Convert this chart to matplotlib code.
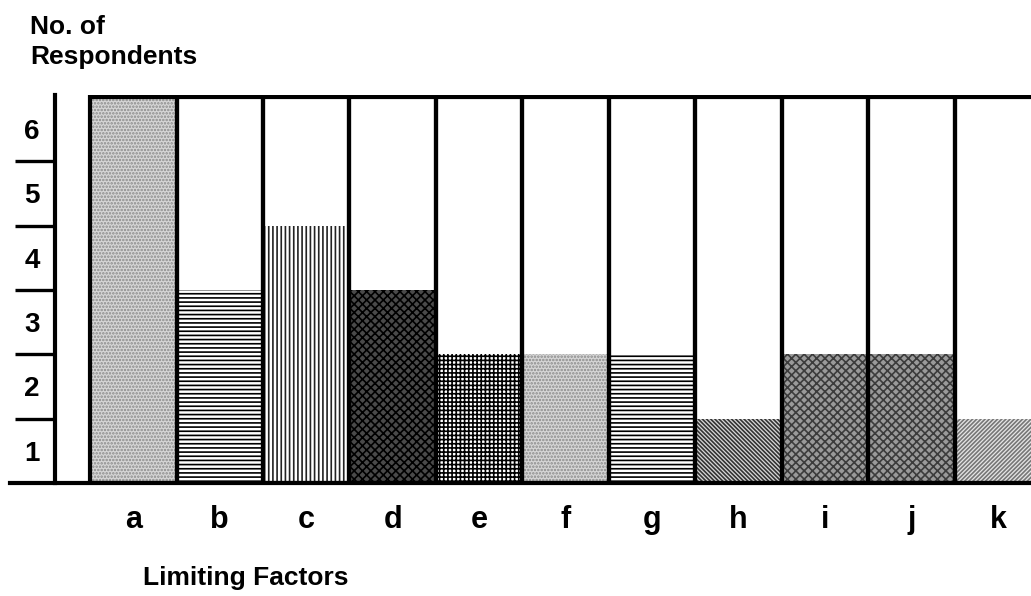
import matplotlib.pyplot as plt
from matplotlib.lines import Line2D

# data
factors = ["a", "b", "c", "d", "e", "f", "g", "h", "i", "j", "k"]
respondents = [6, 3, 4, 3, 2, 2, 2, 1, 2, 2, 1]
y_labels = ["1", "2", "3", "4", "5", "6"]

# fill style for each bar: (face, hatch, hatch colour)
styles = [
    ("#d6d6d6", ".....", "#8a8a8a"),
    ("white", "----", "black"),
    ("white", "||||", "#222222"),
    ("#4a4a4a", "xxxx", "black"),
    ("white", "++++", "black"),
    ("#d6d6d6", ".....", "#8a8a8a"),
    ("white", "----", "black"),
    ("#d8d8d8", "\\" * 8, "#333333"),
    ("#9a9a9a", "xxxx", "#3c3c3c"),
    ("#9a9a9a", "xxxx", "#3c3c3c"),
    ("#e6e6e6", "/" * 8, "#777777"),
]

plt.rcParams['font.family'] = ['Liberation Sans', 'DejaVu Sans']
plt.rcParams['font.weight'] = 'bold'
plt.rcParams['hatch.linewidth'] = 1.2

W, H = 1031, 596
fig = plt.figure(figsize=(W / 100, H / 100), dpi=100)
ax = fig.add_axes([55 / W, (H - 483) / H, (W - 55) / W, (483 - 95) / H])

x = list(range(len(factors)))
for xi, val, (fc, hatch, hc) in zip(x, respondents, styles):
    ax.bar(xi, val, width=1.0, facecolor=fc, hatch=hatch, edgecolor=hc, linewidth=0)

# white boxes with heavy outlines
ax.bar(x, [6] * len(x), width=1.0, fill=False, edgecolor="black", linewidth=3)

ax.set_xlim(-0.905, 10.38)
ax.set_ylim(0, 6.03)

for s in ["top", "right", "bottom"]:
    ax.spines[s].set_visible(False)
ax.spines["left"].set_linewidth(3)

ax.set_yticks([1, 2, 3, 4, 5])
ax.set_yticklabels([])
ax.tick_params(axis="y", which="major", direction="out", length=29, width=2.4)
ax.set_yticks([i + 0.5 for i in range(6)], minor=True)
ax.set_yticklabels(y_labels, minor=True, fontsize=20, fontweight="bold")
ax.tick_params(axis="y", which="minor", length=0, pad=11)

ax.set_xticks(x)
ax.set_xticklabels(factors, fontsize=22, fontweight="bold")
ax.tick_params(axis="x", length=0, pad=16)

# base line running left past the axis
fig.add_artist(Line2D([10 / W, 1], [(H - 483) / H] * 2, color="black", linewidth=3))

fig.text(30 / W, 1 - 15 / H, "No. of\nRespondents", ha="left", va="top",
         fontsize=19, fontweight="bold", linespacing=1.3)
fig.text(143 / W, 1 - 578 / H, "Limiting Factors", ha="left", va="center",
         fontsize=19, fontweight="bold")

fig.savefig("out.png", dpi=100)
